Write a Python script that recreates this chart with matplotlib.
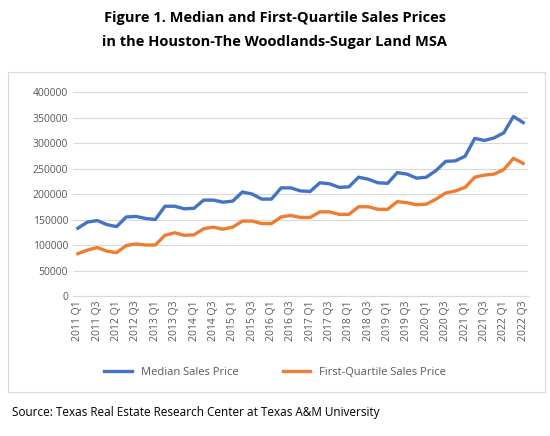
import matplotlib
matplotlib.use("Agg")
import matplotlib.pyplot as plt
from matplotlib.patches import Rectangle

years = list(range(2011, 2023))
quarters = [f"{y} Q{q}" for y in years for q in range(1, 5)][:47]
median = [133,145,148,140, 136,155,156,152, 150,176,176,171, 172,188,188,184,
          186,204,200,190, 190,212,212,206, 205,222,220,213, 214,233,229,222,
          221,242,239,231, 233,246,264,265, 274,309,305,310, 320,352,340]
first_q = [83,90,95,88, 85,99,102,100, 100,119,124,119, 120,132,135,131,
           135,147,147,142, 142,155,158,154, 154,165,165,160, 160,175,175,170,
           170,185,183,179, 180,190,202,206, 213,233,237,239, 248,270,260]
median = [v*1000 for v in median]
first_q = [v*1000 for v in first_q]

plt.rcParams['font.family'] = ['Open Sans', 'DejaVu Sans']
fig = plt.figure(figsize=(5.5, 4.36), dpi=100)
fig.patches.append(Rectangle((8/550, 1-392/436), 537/550, 320/436, transform=fig.transFigure,
                             fill=False, edgecolor='#d9d9d9', lw=0.8))
fig.text(0.5, 1-18/436, "Figure 1. Median and First-Quartile Sales Prices", ha='center', va='center',
         fontsize=10.5, fontweight='bold')
fig.text(0.5, 1-42/436, "in the Houston-The Woodlands-Sugar Land MSA", ha='center', va='center',
         fontsize=10.5, fontweight='bold')
fig.text(12/550, 1-412/436, "Source: Texas Real Estate Research Center at Texas A&M University",
         ha='left', va='center', fontsize=8.5)

ax = fig.add_axes([73/550, 1-296/436, 455/550, 204/436])
x = range(len(quarters))
ax.plot(x, median, color='#4472c4', lw=2.4, label='Median Sales Price')
ax.plot(x, first_q, color='#ed7d31', lw=2.4, label='First-Quartile Sales Price')
ax.set_ylim(0, 400000)
ax.set_yticks(range(0, 400001, 50000))
ax.set_xlim(-0.5, 46.5)
ax.set_xticks(list(x)[::2])
ax.set_xticklabels(quarters[::2], rotation=90, fontsize=7.5, color='#595959')
ax.tick_params(axis='y', labelsize=7.5, colors='#595959', length=0)
ax.tick_params(axis='x', length=0)
ax.grid(axis='y', color='#d9d9d9', lw=0.8)
ax.set_axisbelow(True)
for s in ['top', 'right', 'left']:
    ax.spines[s].set_visible(False)
ax.spines['bottom'].set_color('#d9d9d9')
ax.legend(loc='center', bbox_to_anchor=(0.5, 1-372/436), bbox_transform=fig.transFigure,
          ncol=2, frameon=False, fontsize=8, handlelength=2.5, columnspacing=4, labelcolor='#595959')
fig.savefig("out.png", dpi=100)
